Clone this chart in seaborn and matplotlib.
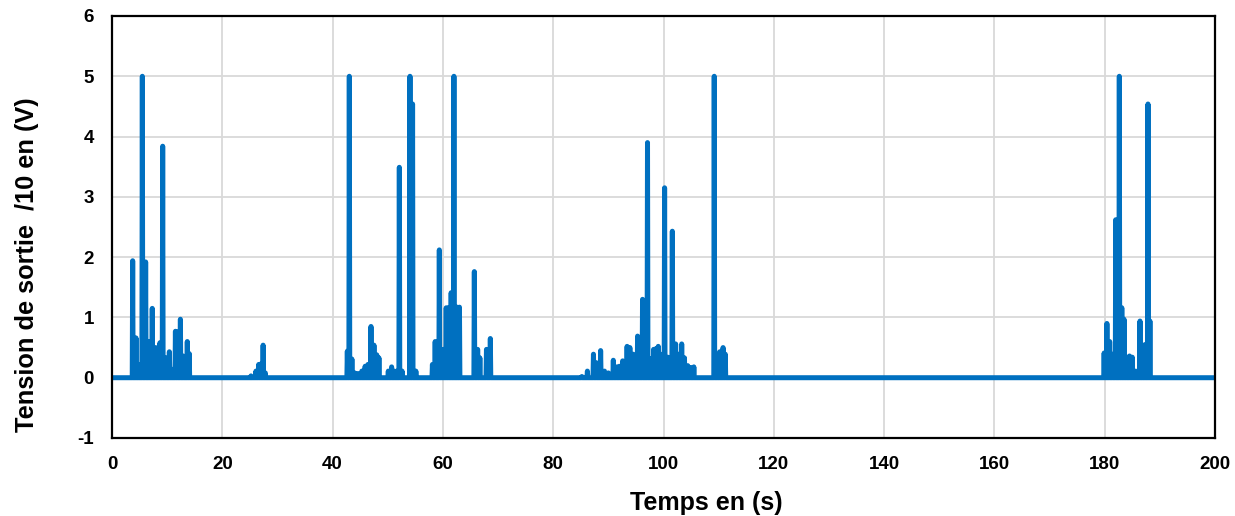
import numpy as np
import matplotlib
matplotlib.use("Agg")
import matplotlib.pyplot as plt
import seaborn as sns

# pics de tension (temps en s, tension /10 en V)
spike_time = [3.75, 4.35, 4.8, 5.5, 6.1, 6.7, 7.3, 7.9, 8.25, 8.7, 9.19, 9.8,
              10.4, 10.85, 11.5, 11.9, 12.4, 12.9, 13.65, 14.0,
              25.2, 26.1, 26.6, 27.0, 27.4, 27.8,
              42.67, 43.03, 43.5, 44.0, 44.6, 45.3, 45.9, 46.4, 46.96, 47.5, 48.0, 48.4,
              50.1, 50.7, 51.2, 51.7, 52.1, 52.6, 54.03, 54.5, 55.1,
              58.1, 58.6, 59.35, 59.8, 60.1, 60.6, 61.0, 61.5, 62.0, 62.6, 63.0,
              65.7, 66.3, 66.7, 67.9, 68.6,
              85.2, 86.2, 87.3, 87.8, 88.6, 89.3, 90.0, 90.9, 91.5, 92.0, 92.6, 93.4,
              93.9, 94.5, 95.3, 95.7, 96.2, 97.1, 97.7, 98.2, 98.6, 99.05, 99.5, 100.2,
              100.8, 101.6, 102.2, 102.7, 103.3, 103.8, 104.4, 104.9, 105.5,
              109.2, 109.8, 110.2, 110.8, 111.2,
              179.9, 180.4, 180.9, 181.4, 182.0, 182.65, 183.1, 183.5, 184.0, 184.5,
              185.0, 185.6, 186.4, 186.9, 187.3, 187.85, 188.2]
spike_volt = [1.94, 0.66, 0.22, 5.0, 1.92, 0.6, 1.15, 0.5, 0.47, 0.58, 3.84, 0.33,
              0.43, 0.14, 0.77, 0.76, 0.97, 0.36, 0.6, 0.4,
              0.03, 0.11, 0.22, 0.23, 0.54, 0.08,
              0.44, 5.0, 0.31, 0.08, 0.07, 0.11, 0.19, 0.22, 0.85, 0.54, 0.38, 0.33,
              0.11, 0.18, 0.11, 0.11, 3.49, 0.11, 5.0, 4.54, 0.11,
              0.22, 0.6, 2.12, 0.47, 0.47, 1.16, 1.16, 1.41, 5.0, 1.17, 1.17,
              1.76, 0.47, 0.33, 0.47, 0.65,
              0.02, 0.11, 0.39, 0.25, 0.45, 0.11, 0.08, 0.29, 0.18, 0.19, 0.28, 0.52,
              0.5, 0.39, 0.69, 0.39, 1.3, 3.9, 0.32, 0.47, 0.48, 0.52, 0.39, 3.15,
              0.34, 2.43, 0.56, 0.39, 0.56, 0.33, 0.2, 0.17, 0.18,
              5.0, 0.17, 0.43, 0.5, 0.39,
              0.41, 0.9, 0.6, 0.39, 2.62, 5.0, 1.16, 0.97, 0.34, 0.36,
              0.34, 0.11, 0.94, 0.5, 0.55, 4.54, 0.94]

x_ticks = [0, 20, 40, 60, 80, 100, 120, 140, 160, 180, 200]
y_ticks = [-1, 0, 1, 2, 3, 4, 5, 6]

# trace: ligne de base a 0, chaque pic monte et redescend
t, v = [0.0], [0.0]
for st, sv in zip(spike_time, spike_volt):
    t += [st - 0.08, st, st + 0.08]
    v += [0.0, sv, 0.0]
t.append(200.0)
v.append(0.0)

sns.set_theme(style="whitegrid")
plt.rcParams['font.family'] = ['Liberation Sans', 'DejaVu Sans']
plt.rcParams['font.weight'] = 'bold'

fig = plt.figure(figsize=(12.35, 5.16), dpi=100)
ax = fig.add_axes([112 / 1235, 1 - 438 / 516, 1103 / 1235, 422 / 516])

sns.lineplot(x=np.array(t), y=np.array(v), estimator=None, sort=False,
             color='#0070C0', linewidth=3.6, ax=ax,
             solid_capstyle='round', solid_joinstyle='round')

ax.set_xlim(0, 200)
ax.set_ylim(-1, 6)
ax.set_xticks(x_ticks)
ax.set_yticks(y_ticks)
ax.set_xticklabels([str(x) for x in x_ticks], fontsize=13.5, fontweight='bold')
ax.set_yticklabels([str(y) for y in y_ticks], fontsize=13.5, fontweight='bold')
ax.tick_params(axis='both', length=0, pad=13, colors='black')

ax.grid(True, color='#d9d9d9', linewidth=1.3)
for s in ax.spines.values():
    s.set_color('black')
    s.set_linewidth(1.6)

ax.set_xlabel('Temps en (s)', fontsize=18, fontweight='bold', color='black')
ax.set_ylabel('Tension de sortie  /10 en (V)', fontsize=18.3, fontweight='bold', color='black')
ax.xaxis.set_label_coords(0.5385, -0.126)
ax.yaxis.set_label_coords(-0.066, 0.41)

fig.savefig('out.png', dpi=100)
